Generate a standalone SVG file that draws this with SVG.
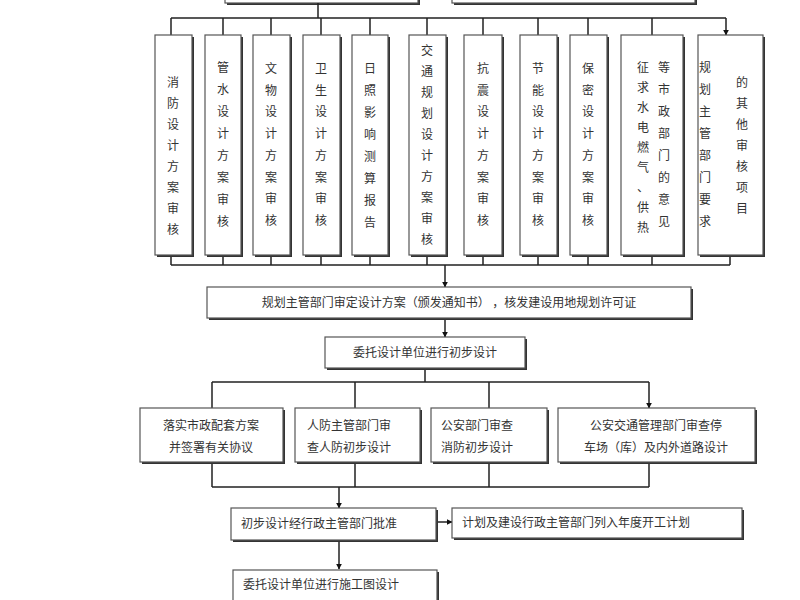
<svg xmlns="http://www.w3.org/2000/svg" width="800" height="600" viewBox="0 0 800 600">
<defs>
<style>
.b{fill:#fff;stroke:#555;stroke-width:1.2}
.s{fill:#333}
.t{font-family:"Noto Sans CJK SC",sans-serif;font-size:12px;fill:#333;text-anchor:middle}
.l{font-family:"Noto Sans CJK SC",sans-serif;font-size:12px;fill:#333}
.c{stroke:#222;stroke-width:1.5;fill:none}
</style>
<marker id="a" viewBox="0 0 10 10" refX="9" refY="5" markerWidth="4" markerHeight="4" orient="auto"><path d="M0,0L10,5L0,10z" fill="#111"/></marker>
</defs>
<rect width="800" height="600" fill="#fff"/>
<g id="top1"><rect class="s" x="227" y="-10" width="193" height="15"/><rect class="b" x="225" y="-12" width="193" height="15"/></g>
<g id="top2"><rect class="s" x="454" y="-10" width="243" height="15"/><rect class="b" x="452" y="-12" width="243" height="15"/></g>
<g id="connectors">
<path class="c" d="M318,3V18M171,18H726"/>
<path class="c" marker-end="url(#a)" d="M171,18V35M223,18V35M271,18V35M321,18V35M370,18V35M427,18V35M483,18V35M538,18V35M588,18V35M652,18V35M726,18V35"/>
<path class="c" d="M171,255V265M223,255V265M271,255V265M321,255V265M370,255V265M427,255V265M483,255V265M538,255V265M588,255V265M652,255V265M730,255V265M171,265H730"/>
<path class="c" marker-end="url(#a)" d="M445,265V287"/>
<path class="c" marker-end="url(#a)" d="M445,318V337"/>
<path class="c" d="M425,368V382M212,382H649"/>
<path class="c" marker-end="url(#a)" d="M212,382V408M355,382V408M489,382V408M649,382V408"/>
<path class="c" d="M212,462V487M355,462V487M489,462V487M649,462V487M212,487H649"/>
<path class="c" marker-end="url(#a)" d="M339,487V508"/>
<path class="c" marker-end="url(#a)" d="M436,522H452"/>
<path class="c" marker-end="url(#a)" d="M339,541V569"/>
</g>
<g id="n1"><rect class="s" x="157" y="37" width="37" height="220"/><rect class="b" x="155" y="35" width="37" height="220"/><text class="t" x="173 173 173 173 173 173 173 173" y="87 108 129 150 171 192 213 234">消防设计方案审核</text></g>
<g id="n2"><rect class="s" x="207" y="37" width="36" height="220"/><rect class="b" x="205" y="35" width="36" height="220"/><text class="t" x="223 223 223 223 223 223 223 223" y="72 94 116 138 160 182 204 226">管水设计方案审核</text></g>
<g id="n3"><rect class="s" x="255" y="37" width="37" height="220"/><rect class="b" x="253" y="35" width="37" height="220"/><text class="t" x="271 271 271 271 271 271 271 271" y="73 95 116 138 160 182 203 225">文物设计方案审核</text></g>
<g id="n4"><rect class="s" x="305" y="37" width="37" height="220"/><rect class="b" x="303" y="35" width="37" height="220"/><text class="t" x="321 321 321 321 321 321 321 321" y="73 95 116 138 160 182 203 225">卫生设计方案审核</text></g>
<g id="n5"><rect class="s" x="354" y="37" width="36" height="220"/><rect class="b" x="352" y="35" width="36" height="220"/><text class="t" x="370 370 370 370 370 370 370 370" y="73 95 117 139 161 183 205 227">日照影响测算报告</text></g>
<g id="n6"><rect class="s" x="411" y="37" width="37" height="220"/><rect class="b" x="409" y="35" width="37" height="220"/><text class="t" x="427 427 427 427 427 427 427 427 427 427" y="55 76 97 118 139 160 181 202 223 244">交通规划设计方案审核</text></g>
<g id="n7"><rect class="s" x="466" y="37" width="38" height="220"/><rect class="b" x="464" y="35" width="38" height="220"/><text class="t" x="483 483 483 483 483 483 483 483" y="73 95 116 138 160 182 203 225">抗震设计方案审核</text></g>
<g id="n8"><rect class="s" x="522" y="37" width="37" height="220"/><rect class="b" x="520" y="35" width="37" height="220"/><text class="t" x="538 538 538 538 538 538 538 538" y="73 95 116 138 160 182 203 225">节能设计方案审核</text></g>
<g id="n9"><rect class="s" x="572" y="37" width="37" height="220"/><rect class="b" x="570" y="35" width="37" height="220"/><text class="t" x="588 588 588 588 588 588 588 588" y="73 95 116 138 160 182 203 225">保密设计方案审核</text></g>
<g id="n10"><rect class="s" x="623" y="37" width="62" height="220"/><rect class="b" x="621" y="35" width="62" height="220"/><text class="t" x="643 643 643 643 643 643 643 643 643" y="72 92 112 132 152 172 192 212 232">征求水电燃气、供热</text><text class="t" x="664 664 664 664 664 664 664 664" y="72 94 116 138 160 182 204 226">等市政部门的意见</text></g>
<g id="n11"><rect class="s" x="700" y="37" width="65" height="220"/><rect class="b" x="698" y="35" width="65" height="220"/><text class="t" x="705 705 705 705 705 705 705 705" y="72 94 116 138 160 182 204 226">规划主管部门要求</text><text class="t" x="742 742 742 742 742 742 742" y="87 108 129 150 171 192 213">的其他审核项目</text></g>
<g id="n12"><rect class="s" x="209" y="289" width="484" height="31"/><rect class="b" x="207" y="287" width="484" height="31"/><text class="t" x="449" y="307">规划主管部门审定设计方案（颁发通知书）      ，核发建设用地规划许可证</text></g>
<g id="n13"><rect class="s" x="327" y="339" width="200" height="31"/><rect class="b" x="325" y="337" width="200" height="31"/><text class="t" x="425" y="357">委托设计单位进行初步设计</text></g>
<g id="n14"><rect class="s" x="142" y="410" width="143" height="54"/><rect class="b" x="140" y="408" width="143" height="54"/><text class="t" x="211" y="430">落实市政配套方案</text><text class="t" x="211" y="452">并签署有关协议</text></g>
<g id="n15"><rect class="s" x="297" y="410" width="125" height="54"/><rect class="b" x="295" y="408" width="125" height="54"/><text class="l" x="307" y="430">人防主管部门审</text><text class="l" x="307" y="452">查人防初步设计</text></g>
<g id="n16"><rect class="s" x="433" y="410" width="116" height="54"/><rect class="b" x="431" y="408" width="116" height="54"/><text class="l" x="441" y="430">公安部门审查</text><text class="l" x="441" y="452">消防初步设计</text></g>
<g id="n17"><rect class="s" x="560" y="410" width="197" height="54"/><rect class="b" x="558" y="408" width="197" height="54"/><text class="t" x="656" y="430">公安交通管理部门审查停</text><text class="t" x="656" y="452">车场（库）及内外道路设计</text></g>
<g id="n18"><rect class="s" x="233" y="510" width="205" height="32"/><rect class="b" x="231" y="508" width="205" height="32"/><text class="l" x="241" y="528">初步设计经行政主管部门批准</text></g>
<g id="n19"><rect class="s" x="454" y="510" width="290" height="30"/><rect class="b" x="452" y="508" width="290" height="30"/><text class="l" x="462" y="527">计划及建设行政主管部门列入年度开工计划</text></g>
<g id="n20"><rect class="s" x="235" y="572" width="204" height="40"/><rect class="b" x="233" y="570" width="204" height="40"/><text class="l" x="243" y="589">委托设计单位进行施工图设计</text></g>
</svg>
